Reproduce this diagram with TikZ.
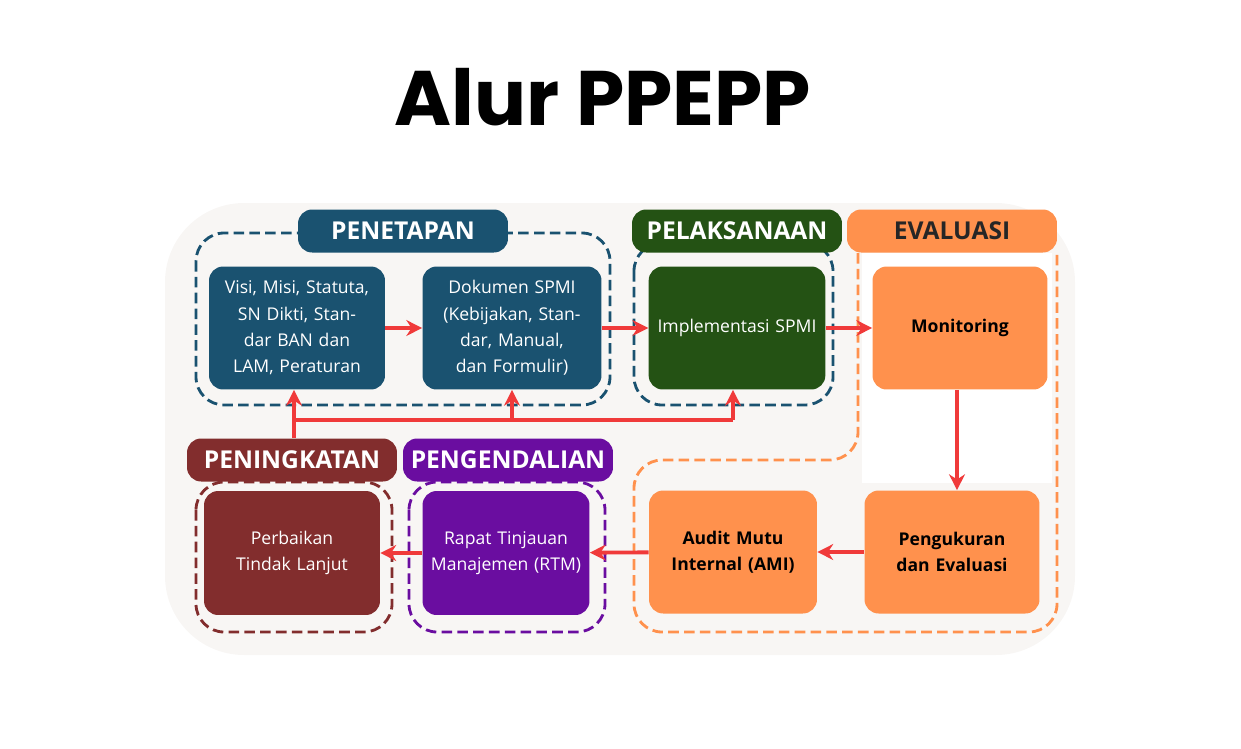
\documentclass[tikz,border=0pt]{standalone}
\usepackage{fontspec}
\setmainfont{Open Sans}
\newfontfamily\titlefont{Poppins}
\usetikzlibrary{arrows.meta}
\definecolor{tealc}{HTML}{1A5270}
\definecolor{greenc}{HTML}{245214}
\definecolor{orangec}{HTML}{FF914D}
\definecolor{maroonc}{HTML}{822D2D}
\definecolor{purplec}{HTML}{6A0DA0}
\definecolor{arrowc}{HTML}{F03A3A}
\definecolor{bgc}{HTML}{F8F6F4}
\begin{document}
\begin{tikzpicture}[
    x=0.02cm, y=-0.02cm,
    box/.style={rectangle, rounded corners=8pt, text width=3.1cm, align=center, minimum height=2.46cm, font=\fontsize{10}{15}\selectfont, text=white},
    head/.style={rectangle, rounded corners=8pt, minimum width=4.2cm, minimum height=0.86cm, font=\fontsize{14}{16}\selectfont\bfseries, text=white},
    group/.style={dashed, line width=1.6pt, dash pattern=on 6pt off 3pt, rounded corners=16pt},
    flow/.style={-{Stealth[length=9pt,width=9pt]}, arrowc, line width=2.2pt}
]
\useasboundingbox (0,0) rectangle (1241,748);
\fill[bgc, rounded corners=45pt] (165,203) rectangle (1075,655);
\fill[white] (862,253) rectangle (1052,483);

\node[font=\titlefont\fontsize{44}{50}\selectfont\bfseries] (title) at (603,97) {Alur PPEPP};

% dashed groups
\draw[group, tealc] (196,233) rectangle (610,405);
\draw[group, tealc] (634,243) rectangle (833,405);
\draw[group, orangec] (858,253) -- (858,460) -- (634,460) -- (634,632) -- (1057,632) -- (1057,253);
\draw[group, maroonc] (196,482) rectangle (392,632);
\draw[group, purplec] (409,482) rectangle (605,632);

% headers
\node[head, fill=tealc] (penetapan) at (403,231) {PENETAPAN};
\node[head, fill=greenc] (pelaksanaan) at (737,231) {PELAKSANAAN};
\node[head, fill=orangec, text=black!85] (evaluasi) at (952,231) {EVALUASI};
\node[head, fill=maroonc] (peningkatan) at (292,460) {PENINGKATAN};
\node[head, fill=purplec] (pengendalian) at (508,460) {PENGENDALIAN};

% boxes
\node[box, fill=tealc, minimum width=3.52cm] (visi) at (297,328) {Visi, Misi, Statuta, SN Dikti, Standar BAN dan LAM, Peraturan};
\node[box, fill=tealc, minimum width=3.58cm, text width=3.3cm] (dokumen) at (512,328) {Dokumen SPMI (Kebijakan, Standar, Manual, dan Formulir)};
\node[box, fill=greenc, minimum width=3.52cm, text width=3.3cm] (implementasi) at (737,328) {Implementasi SPMI};
\node[box, fill=orangec, minimum width=3.5cm, text=black, font=\fontsize{10}{15}\selectfont\bfseries] (monitoring) at (960,328) {Monitoring};
\node[box, fill=orangec, minimum width=3.5cm, text=black, font=\fontsize{10}{15}\selectfont\bfseries] (pengukuran) at (952,552) {Pengukuran dan Evaluasi};
\node[box, fill=orangec, minimum width=3.36cm, text=black, font=\fontsize{10}{15}\selectfont\bfseries] (audit) at (733,552) {Audit Mutu Internal (AMI)};
\node[box, fill=purplec, minimum width=3.34cm, minimum height=2.48cm] (rapat) at (506,553) {Rapat Tinjauan Manajemen (RTM)};
\node[box, fill=maroonc, minimum width=3.52cm, minimum height=2.48cm, text width=2.6cm] (perbaikan) at (292,553) {Perbaikan Tindak Lanjut};

% flow
\draw[flow] (visi) -- (dokumen);
\draw[flow] (dokumen) -- (implementasi);
\draw[flow] (implementasi) -- (monitoring);
\draw[flow] (monitoring.south -| 957,0) -- (pengukuran.north -| 957,0);
\draw[flow] (pengukuran) -- (audit);
\draw[flow] (audit) -- (rapat);
\draw[flow] (rapat) -- (perbaikan);

% feedback
\coordinate (fbstart) at (294,420);
\coordinate (fbend) at (733,420);
\draw[arrowc, line width=2.2pt] (peningkatan.north -| fbstart) -- (fbstart) -- (fbend);
\draw[flow] (fbstart) -- (visi.south -| fbstart);
\draw[flow] (fbstart -| dokumen) -- (dokumen.south);
\draw[flow] (fbend) -- (implementasi.south -| fbend);
\end{tikzpicture}
\end{document}
